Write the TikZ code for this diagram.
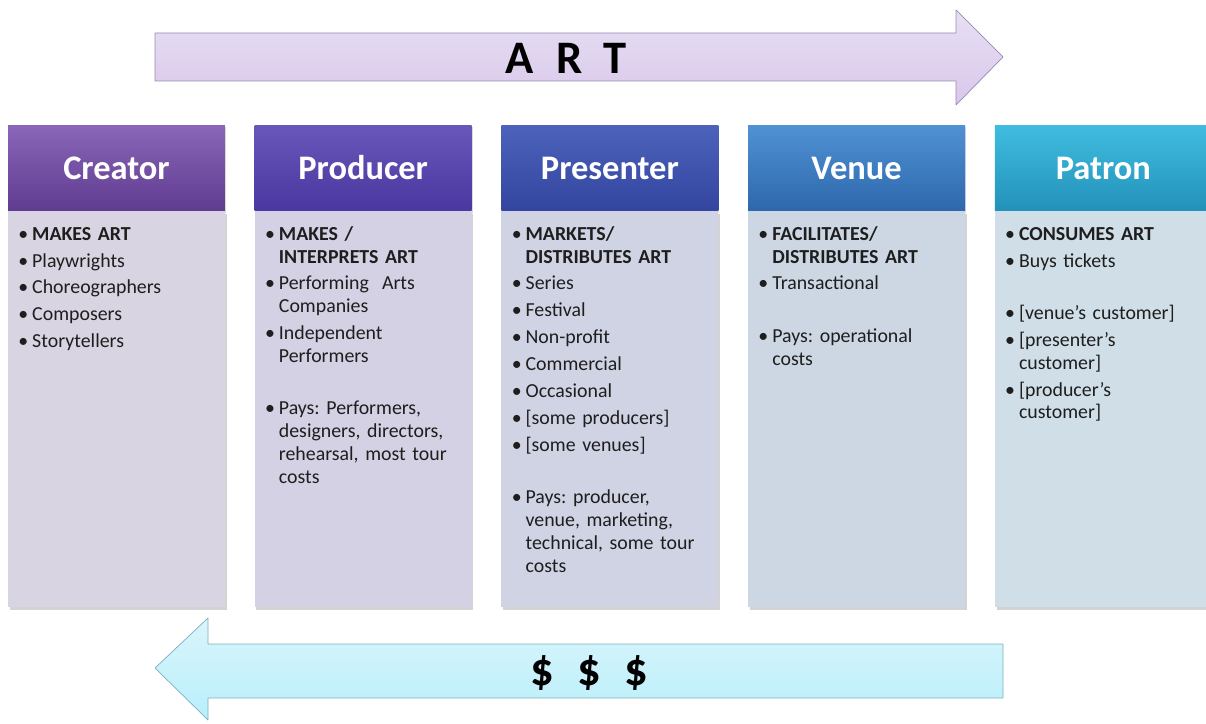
\documentclass[tikz,border=0pt]{standalone}
\usepackage{fontspec}
\setmainfont{Carlito}
\usetikzlibrary{positioning,shadows}
\definecolor{artfill}{HTML}{DDD2EF}\definecolor{artline}{HTML}{9A88B6}
\definecolor{cashfill}{HTML}{C2EEFA}\definecolor{cashline}{HTML}{7AB0BF}
\definecolor{txt}{HTML}{1E1E1E}
\definecolor{creatortop}{HTML}{8A66B8}\definecolor{creatorbot}{HTML}{603C91}\definecolor{creatorbg}{HTML}{D9D4E1}
\definecolor{producertop}{HTML}{6A57BA}\definecolor{producerbot}{HTML}{4A37A0}\definecolor{producerbg}{HTML}{D3D1E3}
\definecolor{presentertop}{HTML}{4C62BB}\definecolor{presenterbot}{HTML}{33459F}\definecolor{presenterbg}{HTML}{D0D3E4}
\definecolor{venuetop}{HTML}{4F92D4}\definecolor{venuebot}{HTML}{2E67AC}\definecolor{venuebg}{HTML}{CDD7E3}
\definecolor{patrontop}{HTML}{40BDE0}\definecolor{patronbot}{HTML}{2391B9}\definecolor{patronbg}{HTML}{D0DEE7}
\newenvironment{blist}{\begin{list}{\textbullet}{\setlength{\leftmargin}{7.9pt}\setlength{\labelwidth}{7.9pt}%
  \setlength{\labelsep}{0pt}\setlength{\itemsep}{2.3pt}\setlength{\parsep}{0pt}\setlength{\topsep}{0pt}%
  \setlength{\partopsep}{0pt}\def\makelabel##1{##1\hfil}}}{\end{list}}
\newcommand{\lgap}{\vspace{14.5pt}}
\tikzset{
  hdr/.style={minimum width=4.34cm,minimum height=1.72cm,inner sep=0,outer sep=0,text=white,
    top color=#1top,bottom color=#1bot,
    font=\fontsize{19.6}{22}\selectfont\bfseries,drop shadow={opacity=0.3,shadow xshift=0.5pt,shadow yshift=-1pt}},
  bod/.style={minimum width=4.34cm,minimum height=7.92cm,inner sep=0,outer sep=0,below=0pt of #1,fill=#1bg,
    drop shadow={opacity=0.35,shadow xshift=1pt,shadow yshift=-1.5pt}},
  lst/.style={anchor=north west,inner sep=0,text width=4.0cm,align=left,text=txt,
    font=\fontsize{11.3}{13}\selectfont\frenchspacing},
  big/.style={font=\fontsize{26.5}{30}\selectfont\bfseries}
}
\begin{document}
\begin{tikzpicture}[x=0.02cm,y=-0.02cm,line join=round]
\useasboundingbox (0,0) rectangle (1206,723);
% arrows
\draw[artline,top color=artfill!70!white,bottom color=artfill!95!violet] (155,33)--(956,33)--(956,10)--(1003,57)--(956,105)--(956,81)--(155,81)--cycle;
\draw[cashline,top color=cashfill!60!white,bottom color=cashfill!95!cyan] (155,668)--(208,618)--(208,644)--(1003,644)--(1003,698)--(208,698)--(208,720)--cycle;
\node[big] (art) at (566,58) {A\hspace{0.5em}R\hspace{0.45em}T};
\node[big] (cash) at (589,673) {\$\hspace{0.5em}\$\hspace{0.5em}\$};
% headers
\node[hdr=creator,anchor=north west] (creator) at (8,125) {Creator};
\node[hdr=producer,right=0.595cm of creator] (producer) {Producer};
\node[hdr=presenter,right=0.595cm of producer] (presenter) {Presenter};
\node[hdr=venue,right=0.595cm of presenter] (venue) {Venue};
\node[hdr=patron,right=0.595cm of venue] (patron) {Patron};
% bodies
\node[bod=creator] (creatorbody) {};
\node[bod=producer] (producerbody) {};
\node[bod=presenter] (presenterbody) {};
\node[bod=venue] (venuebody) {};
\node[bod=patron] (patronbody) {};
% lists
\node[lst] (creatorlist) at ([shift={(10,6)}]creatorbody.north west) {\begin{blist}
\item \textbf{MAKES ART}
\item Playwrights
\item Choreographers
\item Composers
\item Storytellers
\end{blist}};
\node[lst] (producerlist) at ([shift={(10,6)}]producerbody.north west) {\begin{blist}
\item \textbf{MAKES /\\ INTERPRETS ART}
\item Performing\ \ Arts\\ Companies
\item Independent\\ Performers\lgap
\item Pays: Performers,\\ designers, directors,\\ rehearsal, most tour\\ costs
\end{blist}};
\node[lst] (presenterlist) at ([shift={(10,6)}]presenterbody.north west) {\begin{blist}
\item \textbf{MARKETS/\\ DISTRIBUTES ART}
\item Series
\item Festival
\item Non-profit
\item Commercial
\item Occasional
\item {}[some producers]
\item {}[some venues]\lgap
\item Pays: producer,\\ venue, marketing,\\ technical, some tour\\ costs
\end{blist}};
\node[lst] (venuelist) at ([shift={(10,6)}]venuebody.north west) {\begin{blist}
\item \textbf{FACILITATES/\\ DISTRIBUTES ART}
\item Transactional\lgap
\item Pays: operational\\ costs
\end{blist}};
\node[lst] (patronlist) at ([shift={(10,6)}]patronbody.north west) {\begin{blist}
\item \textbf{CONSUMES ART}
\item Buys tickets\lgap
\item {}[venue’s customer]
\item {}[presenter’s\\ customer]
\item {}[producer’s\\ customer]
\end{blist}};
\end{tikzpicture}
\end{document}
